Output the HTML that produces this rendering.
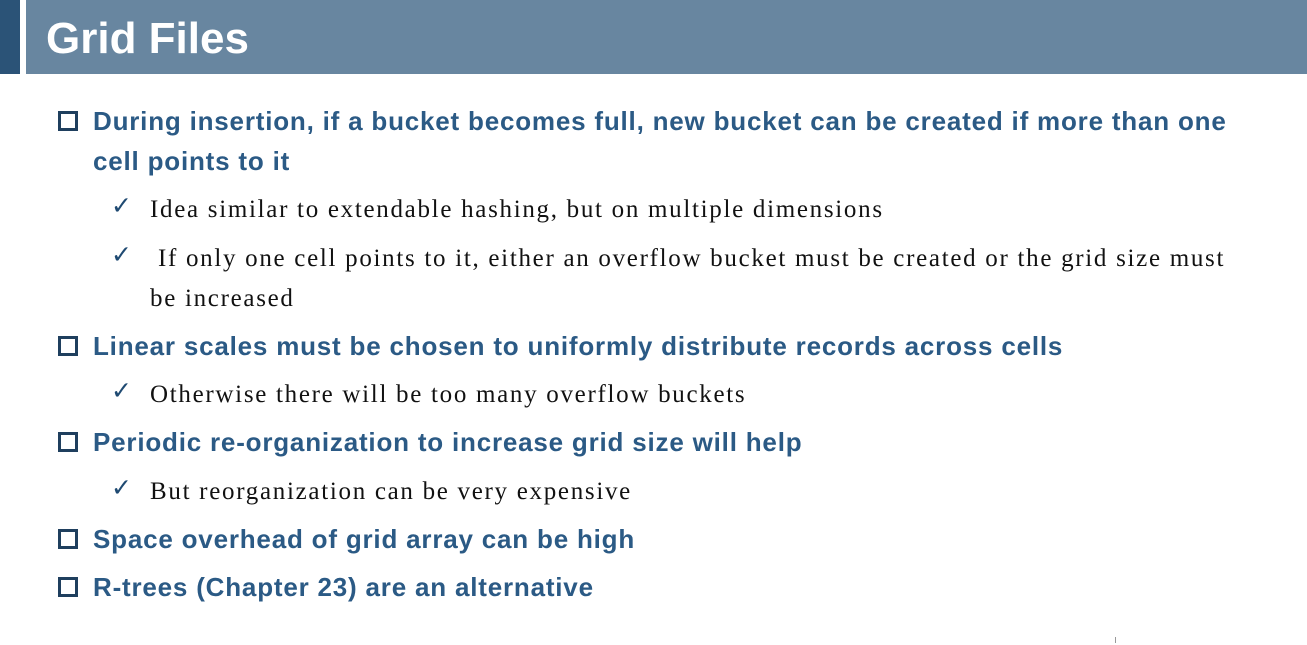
<!DOCTYPE html>
<html><head><meta charset="utf-8"><style>
body{margin:0;width:1307px;height:645px;background:#fff;position:relative;overflow:hidden;font-family:"Liberation Sans",sans-serif}
.dk{position:absolute;left:0;top:0;width:20px;height:74px;background:#2b5377}
.hb{position:absolute;left:26px;top:0;width:1281px;height:74px;background:#6886a0}
.t{position:absolute;left:46px;top:13px;color:#fff;font-weight:bold;font-size:44px;line-height:52px}
.b{position:absolute;left:93px;color:#2b5a85;font-weight:bold;font-size:26px;letter-spacing:0.8px;line-height:30px;white-space:nowrap}
.sq{position:absolute;left:58px;width:14px;height:14px;border:3px solid #1f3f5e}
.s{position:absolute;left:150px;font-family:"Liberation Serif",serif;font-size:25px;letter-spacing:1.7px;line-height:28px;color:#111;white-space:nowrap}
.ck{position:absolute;left:111px;font-family:"DejaVu Sans",sans-serif;font-size:25px;color:#1f4a72}
</style></head><body>
<div class="dk"></div>
<div class="hb"></div>
<div class="t">Grid Files</div>

<div class="sq" style="top:111px"></div>
<div class="b" style="top:106px">During insertion, if a bucket becomes full, new bucket can be created if more than one</div>
<div class="b" style="top:146px">cell points to it</div>

<div class="ck" style="top:191px">✓</div>
<div class="s" style="top:196px">Idea similar to extendable hashing, but on multiple dimensions</div>
<div class="ck" style="top:240px">✓</div>
<div class="s" style="top:245px">&nbsp;If only one cell points to it, either an overflow bucket must be created or the grid size must</div>
<div class="s" style="top:285px">be increased</div>

<div class="sq" style="top:336px"></div>
<div class="b" style="top:331px">Linear scales must be chosen to uniformly distribute records across cells</div>
<div class="ck" style="top:376px">✓</div>
<div class="s" style="top:381px">Otherwise there will be too many overflow buckets</div>

<div class="sq" style="top:432px"></div>
<div class="b" style="top:427px">Periodic re-organization to increase grid size will help</div>
<div class="ck" style="top:473px">✓</div>
<div class="s" style="top:478px">But reorganization can be very expensive</div>

<div class="sq" style="top:529px"></div>
<div class="b" style="top:524px">Space overhead of grid array can be high</div>
<div class="sq" style="top:577px"></div>
<div class="b" style="top:572px">R-trees (Chapter 23) are an alternative</div>
<div style="position:absolute;left:1115px;top:637px;width:1px;height:6px;background:#999"></div>
</body></html>
